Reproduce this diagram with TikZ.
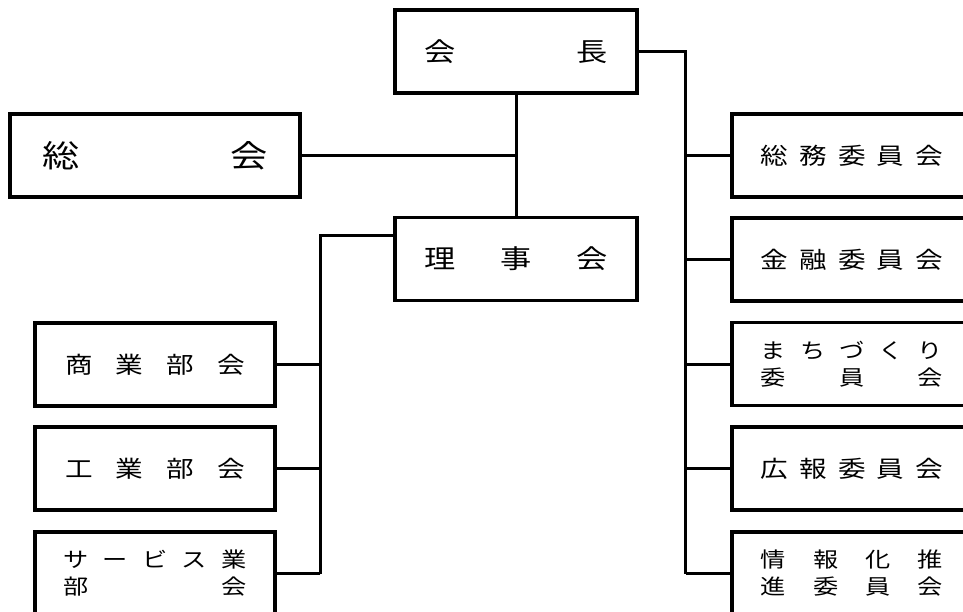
\documentclass[tikz,border=0pt]{standalone}
\usepackage{fontspec}
\usepackage{graphicx}
\newfontfamily\jp{Noto Sans CJK JP}
% spread characters evenly over a given width, slightly widened
\newcommand\spreadtext[2]{\scalebox{1.2}[1]{\makebox[#1][s]{#2}}}
\newcommand\gap{\hfill}
\begin{document}
\begin{tikzpicture}[x=1pt,y=-1pt,
  box/.style={draw,line width=3.1pt,rectangle,inner sep=0pt,
    minimum width=240pt,minimum height=83pt,align=center,font=\jp},
  big/.style={box,minimum width=242pt,font={\jp\fontsize{26}{30}\selectfont}},
  mid/.style={font={\jp\fontsize{23}{27}\selectfont}},
  two/.style={font={\jp\fontsize{21}{27}\selectfont}},
  link/.style={line width=3pt}]
\fill[white] (0,0) rectangle (963,612);
\useasboundingbox (0,0) rectangle (963,612);
\clip (0,0) rectangle (963,612);

% top level
\node[big] (kaicho) at (516,51.5) {\spreadtext{152.5pt}{会\gap{}長}};
\node[big,minimum width=290pt,font={\jp\fontsize{31}{34}\selectfont}] (sokai) at (155,155.5)
  {\spreadtext{188pt}{総\gap{}会}};
\node[big] (riji) at (516,259) {\spreadtext{152.5pt}{理\gap{}事\gap{}会}};

% committees
\node[box,mid] (somu) at (852,155.5) {\spreadtext{151.7pt}{総\gap{}務\gap{}委\gap{}員\gap{}会}};
\node[box,mid] (kinyu) at (852,259.5) {\spreadtext{151.7pt}{金\gap{}融\gap{}委\gap{}員\gap{}会}};
\node[box,two] (machi) at (852,364) {\spreadtext{151.7pt}{ま\gap{}ち\gap{}づ\gap{}く\gap{}り}\\
  \spreadtext{151.7pt}{委\gap{}員\gap{}会}};
\node[box,mid] (koho) at (852,468.5) {\spreadtext{151.7pt}{広\gap{}報\gap{}委\gap{}員\gap{}会}};
\node[box,two] (joho) at (852,573.5) {\spreadtext{151.7pt}{情\gap{}報\gap{}化\gap{}推}\\
  \spreadtext{151.7pt}{進\gap{}委\gap{}員\gap{}会}};

% sections
\node[box,mid] (shogyo) at (155,364.5) {\spreadtext{150pt}{商\gap{}業\gap{}部\gap{}会}};
\node[box,mid] (kogyo) at (155,468.5) {\spreadtext{150pt}{工\gap{}業\gap{}部\gap{}会}};
\node[box,two] (service) at (155,573.5) {\spreadtext{152.5pt}{サ\gap{}ー\gap{}ビ\gap{}ス\gap{}業}\\
  \spreadtext{152.5pt}{部\gap{}会}};

% connectors
\draw[link] (kaicho.south) -- (riji.north);
\draw[link] (sokai.east) -- (sokai.east -| kaicho.south);
\draw[link] (kaicho.east) -- ++(47,0) coordinate (rj) -- (rj |- joho.west);
\foreach \n in {somu,kinyu,machi,koho,joho}
  \draw[link] (rj |- \n.west) -- (\n.west);
\draw[link] ([yshift=-20pt]riji.north west) -- ++(-73,0) coordinate (lj) -- (lj |- service.east);
\foreach \n in {shogyo,kogyo,service}
  \draw[link] (lj |- \n.east) -- (\n.east);
\end{tikzpicture}
\end{document}
